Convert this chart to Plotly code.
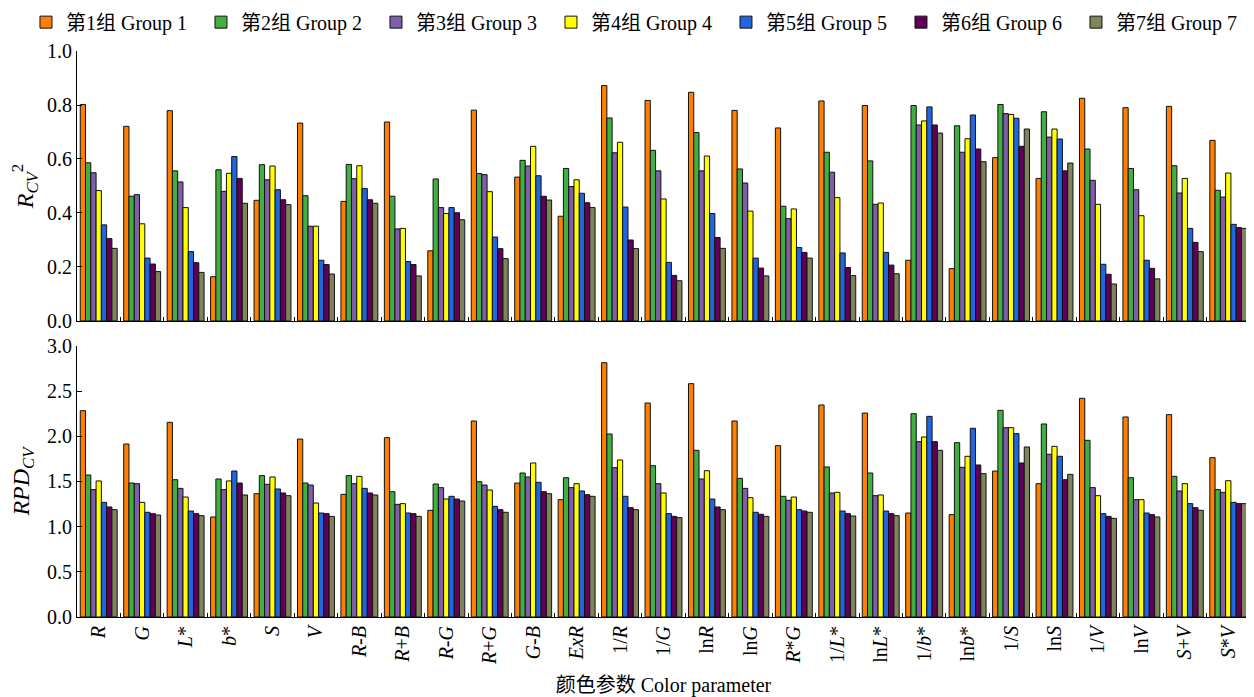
import plotly.graph_objects as go

categories = ["R", "G", "L*", "b*", "S", "V", "R-B", "R+B", "R-G", "R+G", "G-B", "ExR",
              "1/R", "1/G", "lnR", "lnG", "R*G", "1/L*", "lnL*", "1/b*", "lnb*", "1/S",
              "lnS", "1/V", "lnV", "S+V", "S*V"]

tick_labels = ["<i>R</i>", "<i>G</i>", "<i>L</i>*", "<i>b</i>*", "<i>S</i>", "<i>V</i>",
               "<i>R</i>-<i>B</i>", "<i>R</i>+<i>B</i>", "<i>R</i>-<i>G</i>", "<i>R</i>+<i>G</i>",
               "<i>G</i>-<i>B</i>", "<i>ExR</i>", "1/<i>R</i>", "1/<i>G</i>", "ln<i>R</i>",
               "ln<i>G</i>", "<i>R</i>*<i>G</i>", "1/<i>L</i>*", "ln<i>L</i>*", "1/<i>b</i>*",
               "ln<i>b</i>*", "1/<i>S</i>", "ln<i>S</i>", "1/<i>V</i>", "ln<i>V</i>",
               "<i>S</i>+<i>V</i>", "<i>S</i>*<i>V</i>"]

group_names = ["第1组 Group 1", "第2组 Group 2", "第3组 Group 3", "第4组 Group 4",
               "第5组 Group 5", "第6组 Group 6", "第7组 Group 7"]

colors = ["#FF7F00", "#40B040", "#7F5FAA", "#FFFF00", "#2066E0", "#600058", "#7F845A"]

# R_CV^2 per group (one value per category)
r2_g1 = [0.802, 0.721, 0.779, 0.164, 0.447, 0.733, 0.443, 0.737, 0.260, 0.781, 0.533, 0.388,
         0.872, 0.817, 0.847, 0.780, 0.715, 0.815, 0.798, 0.225, 0.194, 0.605, 0.528, 0.825,
         0.790, 0.795, 0.669]
r2_g2 = [0.586, 0.462, 0.556, 0.560, 0.579, 0.464, 0.580, 0.462, 0.526, 0.546, 0.595, 0.565,
         0.752, 0.632, 0.698, 0.563, 0.425, 0.625, 0.593, 0.798, 0.723, 0.802, 0.775, 0.637,
         0.565, 0.575, 0.484]
r2_g3 = [0.549, 0.468, 0.515, 0.480, 0.523, 0.351, 0.527, 0.341, 0.420, 0.542, 0.574, 0.498,
         0.623, 0.556, 0.556, 0.511, 0.379, 0.551, 0.432, 0.726, 0.625, 0.768, 0.681, 0.521,
         0.486, 0.474, 0.459]
r2_g4 = [0.483, 0.360, 0.420, 0.547, 0.574, 0.351, 0.575, 0.343, 0.398, 0.479, 0.647, 0.523,
         0.662, 0.452, 0.611, 0.407, 0.415, 0.457, 0.437, 0.741, 0.675, 0.765, 0.711, 0.432,
         0.390, 0.528, 0.548]
r2_g5 = [0.356, 0.233, 0.257, 0.609, 0.486, 0.225, 0.491, 0.220, 0.420, 0.311, 0.538, 0.473,
         0.422, 0.217, 0.398, 0.233, 0.272, 0.252, 0.254, 0.793, 0.763, 0.751, 0.674, 0.210,
         0.225, 0.343, 0.358]
r2_g6 = [0.305, 0.211, 0.216, 0.528, 0.449, 0.209, 0.449, 0.209, 0.401, 0.268, 0.462, 0.438,
         0.300, 0.169, 0.309, 0.196, 0.254, 0.198, 0.207, 0.726, 0.637, 0.647, 0.556, 0.173,
         0.195, 0.291, 0.346]
r2_g7 = [0.269, 0.183, 0.180, 0.436, 0.431, 0.174, 0.436, 0.167, 0.375, 0.231, 0.448, 0.420,
         0.268, 0.149, 0.269, 0.167, 0.233, 0.168, 0.175, 0.696, 0.590, 0.711, 0.585, 0.137,
         0.156, 0.257, 0.343]

# RPD_CV per group
rpd_g1 = [2.284, 1.915, 2.155, 1.107, 1.365, 1.970, 1.358, 1.985, 1.181, 2.170, 1.483, 1.299,
          2.815, 2.369, 2.583, 2.170, 1.897, 2.347, 2.258, 1.151, 1.133, 1.616, 1.476, 2.421,
          2.214, 2.240, 1.764]
rpd_g2 = [1.572, 1.483, 1.520, 1.528, 1.565, 1.483, 1.565, 1.387, 1.472, 1.498, 1.594, 1.542,
          2.026, 1.675, 1.845, 1.535, 1.336, 1.661, 1.594, 2.251, 1.930, 2.288, 2.137, 1.956,
          1.542, 1.557, 1.410]
rpd_g3 = [1.410, 1.476, 1.424, 1.410, 1.469, 1.461, 1.476, 1.247, 1.432, 1.461, 1.550, 1.432,
          1.653, 1.476, 1.528, 1.424, 1.292, 1.373, 1.343, 1.941, 1.657, 2.096, 1.801, 1.432,
          1.299, 1.395, 1.380]
rpd_g4 = [1.506, 1.269, 1.328, 1.506, 1.550, 1.262, 1.557, 1.255, 1.306, 1.406, 1.705, 1.476,
          1.738, 1.373, 1.620, 1.321, 1.328, 1.380, 1.351, 1.993, 1.779, 2.096, 1.889, 1.343,
          1.299, 1.476, 1.509]
rpd_g5 = [1.269, 1.159, 1.173, 1.616, 1.417, 1.151, 1.424, 1.151, 1.336, 1.225, 1.491, 1.395,
          1.336, 1.144, 1.306, 1.159, 1.188, 1.173, 1.173, 2.221, 2.089, 2.030, 1.779, 1.144,
          1.151, 1.255, 1.269]
rpd_g6 = [1.218, 1.144, 1.144, 1.483, 1.373, 1.144, 1.373, 1.144, 1.306, 1.188, 1.387, 1.354,
          1.210, 1.114, 1.218, 1.137, 1.173, 1.144, 1.144, 1.941, 1.683, 1.705, 1.520, 1.114,
          1.133, 1.210, 1.255]
rpd_g7 = [1.188, 1.129, 1.122, 1.351, 1.343, 1.114, 1.351, 1.114, 1.284, 1.159, 1.365, 1.336,
          1.188, 1.100, 1.188, 1.114, 1.159, 1.118, 1.122, 1.845, 1.587, 1.882, 1.579, 1.092,
          1.107, 1.181, 1.255]

r2_series = [r2_g1, r2_g2, r2_g3, r2_g4, r2_g5, r2_g6, r2_g7]
rpd_series = [rpd_g1, rpd_g2, rpd_g3, rpd_g4, rpd_g5, rpd_g6, rpd_g7]

FONT = "Liberation Serif, Noto Sans CJK SC, serif"

fig = go.Figure()
for name, col, vals in zip(group_names, colors, r2_series):
    fig.add_trace(go.Bar(x=categories, y=vals, name=name, xaxis="x", yaxis="y",
                         marker=dict(color=col, line=dict(color="#111111", width=1)),
                         legendgroup=name))
for name, col, vals in zip(group_names, colors, rpd_series):
    fig.add_trace(go.Bar(x=categories, y=vals, name=name, xaxis="x2", yaxis="y2",
                         marker=dict(color=col, line=dict(color="#111111", width=1)),
                         legendgroup=name, showlegend=False))

axis_common = dict(showline=True, linecolor="black", linewidth=1, mirror=False,
                   showgrid=False, zeroline=False, automargin=False)

# page body has an 8px margin, so the figure is 8px smaller than the window
fig.update_layout(
    width=1246, height=689,
    margin=dict(l=69, r=4, t=43, b=80, autoexpand=False),
    paper_bgcolor="white", plot_bgcolor="white",
    font=dict(family=FONT, size=20, color="black"),
    barmode="group", bargap=0.15, bargroupgap=0,
    showlegend=True,
    legend=dict(orientation="h", xref="paper", yref="paper",
                x=-0.0435, y=1.051, xanchor="left", yanchor="middle",
                entrywidth=130, entrywidthmode="pixels",
                font=dict(size=20, family=FONT), itemwidth=30,
                bgcolor="rgba(0,0,0,0)", tracegroupgap=0),
    xaxis=dict(domain=[0, 1], anchor="y", categoryorder="array", categoryarray=categories,
               range=[-0.5, len(categories) - 0.5], showticklabels=False,
               ticks="inside", ticklen=4, tickson="boundaries", tickcolor="black",
               **axis_common),
    yaxis=dict(domain=[0.523, 1.0], anchor="x", range=[0, 1.0], tickvals=[0, 0.2, 0.4, 0.6, 0.8, 1.0],
               tickformat=".1f", ticks="inside", ticklen=5, tickcolor="black",
               title=dict(text="<i>R<sub>CV</sub></i><sup>2</sup>", standoff=12),
               **axis_common),
    xaxis2=dict(domain=[0, 1], anchor="y2", categoryorder="array", categoryarray=categories,
                range=[-0.5, len(categories) - 0.5], tickmode="array",
                tickvals=categories, ticktext=tick_labels, tickangle=-90,
                ticks="inside", ticklen=4, tickson="boundaries", tickcolor="black",
                title=dict(text="颜色参数 Color parameter", standoff=16, font=dict(size=20)),
                **axis_common),
    yaxis2=dict(domain=[0, 0.4788], anchor="x2", range=[0, 3.0],
                tickvals=[0, 0.5, 1.0, 1.5, 2.0, 2.5, 3.0], tickformat=".1f",
                ticks="inside", ticklen=5, tickcolor="black",
                title=dict(text="<i>RPD<sub>CV</sub></i>", standoff=14),
                **axis_common),
)

fig.write_html("out.html")
